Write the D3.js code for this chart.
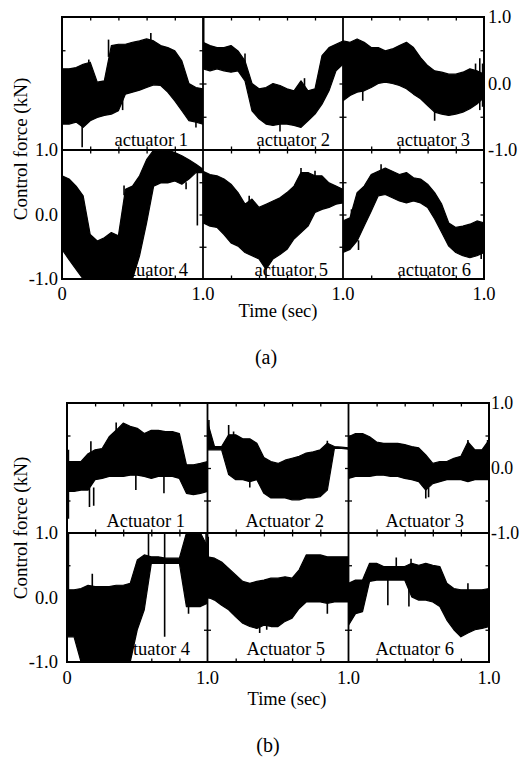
<!DOCTYPE html>
<html>
<head>
<meta charset="utf-8">
<script src="https://cdn.jsdelivr.net/npm/d3@7"></script>
<style>
  html, body { margin: 0; padding: 0; background: #fff; }
  svg { display: block; }
</style>
</head>
<body>
<svg id="chart" width="520" height="758" font-family="'Liberation Serif', 'Times New Roman', Times, serif"></svg>
<script>
// ---------------- DATA ----------------
const timePts = [0,0.05,0.10,0.15,0.20,0.25,0.30,0.35,0.40,0.45,0.50,0.55,0.60,0.65,0.70,0.75,0.80,0.85,0.90,0.95,1.00];
const yTickLabels = ["1.0", "0.0", "-1.0"];
const yTickValues = [1, 0, -1];
const xTickLabels = ["0", "1.0", "1.0", "1.0"];
const labelsA = ["actuator 1","actuator 2","actuator 3","actuator 4","actuator 5","actuator 6"];
const labelsB = ["Actuator 1","Actuator 2","Actuator 3","Actuator 4","Actuator 5","Actuator 6"];
const panelTitles = ["(a)", "(b)"];
const xTitle = "Time (sec)";
const yTitle = "Control force (kN)";

// (a) upper / lower envelopes of control force (kN)
const a1Up = [0.22,0.22,0.24,0.29,0.32,0.02,0.04,0.57,0.59,0.59,0.62,0.64,0.67,0.64,0.57,0.54,0.49,0.34,0.00,-0.06,-0.08];
const a1Lo = [-0.61,-0.61,-0.58,-0.66,-0.56,-0.51,-0.48,-0.46,-0.41,-0.16,-0.13,-0.10,-0.06,-0.02,-0.03,-0.13,-0.26,-0.41,-0.56,-0.58,-0.61];
const a2Up = [0.62,0.57,0.54,0.54,0.57,0.49,0.34,0.00,-0.08,-0.06,0.00,-0.03,-0.08,-0.11,0.04,-0.11,-0.08,0.42,0.54,0.59,0.64];
const a2Lo = [0.22,0.19,0.22,0.19,0.17,0.19,0.04,-0.41,-0.53,-0.61,-0.63,-0.61,-0.61,-0.63,-0.66,-0.56,-0.46,-0.31,-0.11,0.19,0.29];
const a3Up = [0.64,0.62,0.67,0.62,0.54,0.54,0.49,0.52,0.57,0.62,0.54,0.39,0.27,0.19,0.17,0.14,0.14,0.17,0.22,0.19,0.14];
const a3Lo = [-0.26,-0.18,-0.13,-0.11,-0.06,0.00,0.02,0.00,-0.03,-0.08,-0.16,-0.23,-0.33,-0.43,-0.46,-0.48,-0.46,-0.43,-0.38,-0.31,-0.21];
const a4Up = [0.60,0.55,0.44,0.29,-0.31,-0.41,-0.36,-0.28,-0.33,0.39,0.44,0.60,0.85,1.00,1.00,1.00,0.96,0.91,0.85,0.78,0.70];
const a4Lo = [-0.54,-0.70,-0.85,-1.00,-1.00,-1.00,-1.00,-1.00,-1.00,-1.00,-1.00,-0.64,-0.13,0.44,0.49,0.49,0.52,0.47,0.55,0.65,0.65];
const a5Up = [0.67,0.62,0.60,0.55,0.47,0.34,0.16,0.24,0.11,0.16,0.21,0.26,0.34,0.44,0.65,0.65,0.60,0.60,0.49,0.44,0.39];
const a5Lo = [-0.13,-0.18,-0.20,-0.31,-0.44,-0.49,-0.59,-0.64,-0.69,-0.85,-0.69,-0.62,-0.54,-0.38,-0.28,-0.18,0.03,0.08,0.11,0.16,0.18];
const a6Up = [-0.10,-0.05,0.34,0.44,0.62,0.67,0.72,0.67,0.62,0.65,0.57,0.55,0.47,0.34,0.16,-0.13,-0.20,-0.18,-0.15,-0.10,-0.13];
const a6Lo = [-0.59,-0.54,-0.41,-0.18,0.05,0.29,0.31,0.26,0.21,0.18,0.21,0.18,0.11,-0.07,-0.28,-0.49,-0.59,-0.64,-0.67,-0.64,-0.59];

// (b) upper / lower envelopes of control force (kN)
const b1Up = [0.10,0.10,0.10,0.22,0.28,0.30,0.48,0.58,0.69,0.64,0.61,0.53,0.58,0.58,0.56,0.56,0.53,0.05,0.05,0.07,0.10];
const b1Lo = [-0.36,-0.36,-0.34,-0.34,-0.18,-0.16,-0.13,-0.13,-0.13,-0.11,-0.11,-0.13,-0.16,-0.13,-0.13,-0.13,-0.16,-0.39,-0.41,-0.39,-0.36];
const b2Up = [0.71,0.33,0.33,0.51,0.51,0.45,0.45,0.38,0.16,0.10,0.07,0.12,0.15,0.18,0.23,0.25,0.28,0.38,0.33,0.32,0.31];
const b2Lo = [0.28,0.28,0.28,-0.10,-0.18,-0.18,-0.21,-0.18,-0.39,-0.46,-0.46,-0.46,-0.49,-0.49,-0.46,-0.46,-0.44,-0.34,0.30,0.30,0.29];
const b3Up = [0.48,0.53,0.53,0.48,0.40,0.38,0.38,0.38,0.36,0.33,0.31,0.20,0.07,0.10,0.10,0.15,0.18,0.40,0.28,0.28,0.43];
const b3Lo = [-0.16,-0.13,-0.13,-0.13,-0.11,-0.11,-0.13,-0.13,-0.16,-0.18,-0.21,-0.34,-0.24,-0.21,-0.18,-0.18,-0.18,-0.21,-0.18,-0.18,-0.18];
const b4Up = [0.12,0.12,0.14,0.19,0.17,0.17,0.17,0.19,0.19,0.22,0.58,0.66,0.63,0.63,0.61,0.61,0.61,1.00,1.00,1.00,0.79];
const b4Lo = [-0.61,-0.61,-1.00,-1.00,-1.00,-1.00,-1.00,-1.00,-1.00,-1.00,-0.50,-0.19,0.53,0.53,0.53,0.53,0.53,-0.14,-0.14,-0.14,-0.09];
const b5Up = [0.63,0.61,0.55,0.45,0.35,0.25,0.22,0.25,0.27,0.30,0.30,0.32,0.30,0.43,0.66,0.66,0.66,0.63,0.63,0.63,0.63];
const b5Lo = [0.01,-0.04,-0.12,-0.19,-0.30,-0.40,-0.45,-0.48,-0.43,-0.45,-0.45,-0.37,-0.32,-0.17,-0.07,-0.07,-0.07,-0.09,-0.07,-0.07,-0.07];
const b6Up = [0.22,0.27,0.27,0.53,0.53,0.48,0.48,0.48,0.48,0.53,0.50,0.53,0.50,0.48,0.22,0.14,0.12,0.12,0.12,0.12,0.14];
const b6Lo = [-0.43,-0.25,-0.22,0.25,0.27,0.27,0.27,0.27,0.27,0.01,-0.04,-0.04,-0.07,-0.14,-0.35,-0.50,-0.61,-0.55,-0.50,-0.48,-0.45];

// isolated spikes: [time, from, to]
const a1Spk = [[0.143,-0.60,-0.96],[0.19,0.30,0.36],[0.33,0.40,0.66],[0.63,0.60,0.76],[0.95,-0.55,-0.66],[0.43,-0.40,-0.10]];
const a2Spk = [[0.005,0.50,1.00],[0.725,-0.10,0.08],[0.30,0.30,0.45],[0.55,-0.55,-0.72]];
const a3Spk = [[0.14,-0.10,-0.26],[0.65,-0.40,-0.56],[0.97,-0.40,0.38],[0.99,-0.35,0.30],[0.94,0.10,0.30]];
const a4Spk = [[0.88,0.50,0.39],[0.96,0.65,-0.17],[0.44,0.30,0.45]];
const a5Spk = [[0.33,0.10,0.29],[0.70,0.50,0.72],[0.45,-0.70,-1.00],[0.80,0.50,0.68]];
const a6Spk = [[0.06,-0.10,0.08],[0.27,0.60,0.78],[0.98,-0.55,-0.69],[0.11,-0.40,-0.55]];
const b1Spk = [[0.01,0.28,-0.78],[0.16,-0.30,-0.60],[0.19,-0.30,-0.58],[0.17,0.20,0.41],[0.49,-0.10,-0.34],[0.69,-0.10,-0.39],[0.35,0.50,0.70]];
const b2Spk = [[0.01,0.30,0.74],[0.15,0.40,0.66],[0.185,0.40,0.56],[0.85,0.30,0.42],[0.30,-0.20,-0.30]];
const b3Spk = [[0.55,-0.30,-0.47],[0.85,0.30,0.43],[0.99,0.30,0.43],[0.57,-0.30,-0.45]];
const b4Spk = [[0.01,0.10,1.00],[0.18,0.15,0.37],[0.58,0.60,1.00],[0.695,1.00,-0.61],[0.865,-0.10,-0.25],[0.99,0.70,1.00]];
const b5Spk = [[0.005,0.60,0.94],[0.85,-0.09,-0.25],[0.42,-0.40,-0.50],[0.37,-0.45,-0.55]];
const b6Spk = [[0.28,0.27,-0.12],[0.43,0.27,-0.14],[0.445,0.50,0.60],[0.34,0.48,0.62],[0.85,0.10,0.22]];

// ---------------- LAYOUT ----------------
const figures = [
  { cols: [62, 203, 343, 484], rows: [17, 150, 279], labels: labelsA,
    labelEnd: [188, 330, 470, 188, 328, 471], labelBase: [146, 276],
    series: [[a1Up,a1Lo,a1Spk],[a2Up,a2Lo,a2Spk],[a3Up,a3Lo,a3Spk],[a4Up,a4Lo,a4Spk],[a5Up,a5Lo,a5Spk],[a6Up,a6Lo,a6Spk]],
    leftLabX: 58, rightLabX: 488, rightFS: 18.5, xLabY: 300, xTitle: [278, 317], yTitle: [27, 149], title: [266, 364] },
  { cols: [67, 207.5, 348.5, 489], rows: [403, 533, 662], labels: labelsB,
    labelEnd: [185, 324, 464, 190, 325, 454], labelBase: [527, 655],
    series: [[b1Up,b1Lo,b1Spk],[b2Up,b2Lo,b2Spk],[b3Up,b3Lo,b3Spk],[b4Up,b4Lo,b4Spk],[b5Up,b5Lo,b5Spk],[b6Up,b6Lo,b6Spk]],
    leftLabX: 58, rightLabX: 491, rightFS: 17.8, xLabY: 684, xTitle: [287, 705], yTitle: [27, 528], title: [268, 752] }
];

const svg = d3.select("#chart");
const FS = 18.5;
const FONT = "'Liberation Serif', 'Times New Roman', Times, serif";

function txt(sel) { return sel.attr("font-family", FONT).attr("fill", "#000"); }

figures.forEach((fig, fi) => {
  const g = svg.append("g");
  const defs = g.append("defs");
  const panels = [];
  for (let r = 0; r < 2; r++) {
    for (let c = 0; c < 3; c++) {
      const x = d3.scaleLinear().domain([0, 1]).range([fig.cols[c], fig.cols[c + 1]]);
      const y = d3.scaleLinear().domain([-1, 1]).range([fig.rows[r + 1], fig.rows[r]]);
      panels.push({ r, c, x, y, idx: r * 3 + c });
    }
  }

  // panel labels (drawn beneath the signals)
  panels.forEach(p => {
    g.append("text").call(txt)
      .attr("x", fig.labelEnd[p.idx])
      .attr("y", fig.labelBase[p.r])
      .attr("text-anchor", "end")
      .attr("font-size", FS)
      .text(fig.labels[p.idx]);
  });

  // signals
  panels.forEach(p => {
    const id = `clip-${fi}-${p.idx}`;
    defs.append("clipPath").attr("id", id).append("rect")
      .attr("x", p.x.range()[0]).attr("y", p.y.range()[1])
      .attr("width", p.x.range()[1] - p.x.range()[0])
      .attr("height", p.y.range()[0] - p.y.range()[1]);
    const [up, lo, spk] = fig.series[p.idx];
    const rows = timePts.map((t, i) => ({ t, hi: up[i], lo: lo[i] }));
    const area = d3.area()
      .x(d => p.x(d.t)).y0(d => p.y(d.lo)).y1(d => p.y(d.hi))
      .curve(d3.curveLinear);
    const pg = g.append("g").attr("clip-path", `url(#${id})`);
    pg.append("path").datum(rows).attr("d", area)
      .attr("fill", "#000").attr("stroke", "#000").attr("stroke-width", 1.2)
      .attr("stroke-linejoin", "round");
    pg.selectAll("line.spk").data(spk).join("line")
      .attr("x1", d => p.x(d[0])).attr("x2", d => p.x(d[0]))
      .attr("y1", d => p.y(d[1])).attr("y2", d => p.y(d[2]))
      .attr("stroke", "#000").attr("stroke-width", 1.6);
  });

  // ticks (inward) via d3 axes
  panels.forEach(p => {
    const [x0, x1] = p.x.range();
    const [yb, yt] = p.y.range();
    const xt = [0.2, 0.4, 0.6, 0.8];
    const yt2 = [-0.5, 0, 0.5];
    const style = sel => { sel.select(".domain").remove(); sel.selectAll("line").attr("stroke", "#000").attr("stroke-width", 1.3); };
    g.append("g").attr("transform", `translate(0,${yt})`)
      .call(d3.axisTop(p.x).tickValues(xt).tickSize(-3.5).tickFormat("")).call(style);
    g.append("g").attr("transform", `translate(0,${yb})`)
      .call(d3.axisBottom(p.x).tickValues(xt).tickSize(-3.5).tickFormat("")).call(style);
    g.append("g").attr("transform", `translate(${x0},0)`)
      .call(d3.axisLeft(p.y).tickValues(yt2).tickSize(-3.5).tickFormat("")).call(style);
    g.append("g").attr("transform", `translate(${x1},0)`)
      .call(d3.axisRight(p.y).tickValues(yt2).tickSize(-3.5).tickFormat("")).call(style);
  });

  // frame
  const [L, C1, C2, R] = fig.cols;
  const [T, M, B] = fig.rows;
  g.append("rect").attr("x", L).attr("y", T).attr("width", R - L).attr("height", B - T)
    .attr("fill", "none").attr("stroke", "#000").attr("stroke-width", 2);
  [C1, C2].forEach(cx => g.append("line").attr("x1", cx).attr("x2", cx).attr("y1", T).attr("y2", B)
    .attr("stroke", "#000").attr("stroke-width", 1.8));
  g.append("line").attr("x1", L).attr("x2", R).attr("y1", M).attr("y2", M)
    .attr("stroke", "#000").attr("stroke-width", 1.8);

  // y tick labels: left (bottom row), right (top row)
  const yTop = panels[0].y, yBot = panels[3].y;
  yTickValues.forEach((v, i) => {
    g.append("text").call(txt).attr("x", fig.leftLabX).attr("y", yBot(v) + 6)
      .attr("text-anchor", "end").attr("font-size", FS).text(yTickLabels[i]);
    g.append("text").call(txt).attr("x", fig.rightLabX).attr("y", yTop(v) + 6)
      .attr("text-anchor", "start").attr("font-size", fig.rightFS).text(yTickLabels[i]);
  });

  // x tick labels
  fig.cols.forEach((cx, i) => {
    g.append("text").call(txt).attr("x", cx).attr("y", fig.xLabY)
      .attr("text-anchor", "middle").attr("font-size", FS).text(xTickLabels[i]);
  });

  // axis titles
  g.append("text").call(txt).attr("x", fig.xTitle[0]).attr("y", fig.xTitle[1])
    .attr("text-anchor", "middle").attr("font-size", FS).text(xTitle);
  g.append("text").call(txt)
    .attr("transform", `translate(${fig.yTitle[0]},${fig.yTitle[1]}) rotate(-90)`)
    .attr("text-anchor", "middle").attr("font-size", 19).text(yTitle);
  g.append("text").call(txt).attr("x", fig.title[0]).attr("y", fig.title[1])
    .attr("text-anchor", "middle").attr("font-size", 20).text(panelTitles[fi]);
});
</script>
</body>
</html>
